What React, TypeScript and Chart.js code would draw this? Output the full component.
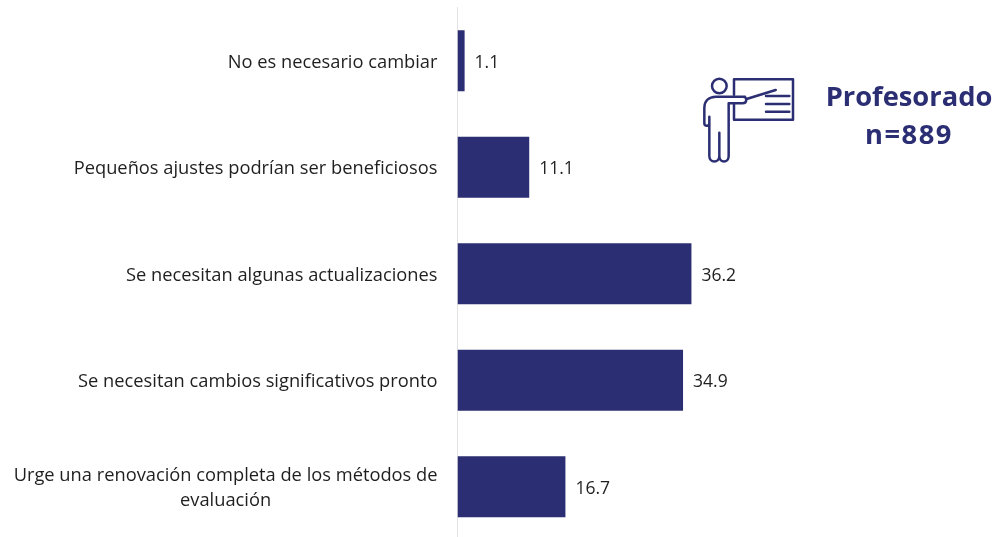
import React, { useEffect, useRef } from "react";
import { Chart, registerables } from "chart.js";

Chart.register(...registerables);

const categories: string[][] = [
  ["No es necesario cambiar"],
  ["Pequeños ajustes podrían ser beneficiosos"],
  ["Se necesitan algunas actualizaciones"],
  ["Se necesitan cambios significativos pronto"],
  ["Urge una renovación completa de los métodos de", "evaluación"],
];
const seriesValues: number[] = [1.1, 11.1, 36.2, 34.9, 16.7];
const valueLabels: string[] = ["1.1", "11.1", "36.2", "34.9", "16.7"];
const titleLines: string[] = ["Profesorado", "n=889"];

const NAVY = "#2b2e72";
const TEXT = "#1f1f1f";
const FONT = "'Open Sans', sans-serif";

const labelsPlugin = {
  id: "rowLabels",
  afterDatasetsDraw(chart: any) {
    const { ctx } = chart;
    const y = chart.scales.y;
    const meta = chart.getDatasetMeta(0);
    ctx.save();
    ctx.fillStyle = TEXT;
    ctx.textBaseline = "middle";
    const lineHeight = 25;
    const rightEdge = chart.chartArea.left - 20;
    categories.forEach((lines, i) => {
      const cy = y.getPixelForTick(i) + 2;
      ctx.font = `18.3px ${FONT}`;
      const widest = Math.max(...lines.map((l) => ctx.measureText(l).width));
      const startY = cy - ((lines.length - 1) * lineHeight) / 2;
      ctx.textAlign = lines.length > 1 ? "center" : "right";
      lines.forEach((line, j) => {
        const x = lines.length > 1 ? rightEdge - widest / 2 : rightEdge;
        ctx.fillText(line, x, startY + j * lineHeight);
      });
      ctx.font = `17.5px ${FONT}`;
      ctx.textAlign = "left";
      ctx.fillText(valueLabels[i], meta.data[i].x + 10, cy);
    });
    ctx.restore();
  },
};

export default function App() {
  const ref = useRef<HTMLCanvasElement>(null);
  useEffect(() => {
    const chart = new Chart(ref.current!, {
      type: "bar",
      data: {
        labels: categories.map((c) => c.join(" ")),
        datasets: [
          {
            data: seriesValues,
            backgroundColor: NAVY,
            categoryPercentage: 0.573,
            barPercentage: 1,
          },
        ],
      },
      options: {
        indexAxis: "y",
        animation: false,
        responsive: false,
        layout: { padding: { left: 457.5, top: 7.5, right: 23.5, bottom: 0 } },
        plugins: { legend: { display: false }, tooltip: { enabled: false } },
        scales: {
          x: { display: false, min: 0, max: 80 },
          y: {
            grid: { display: false, drawTicks: false },
            border: { color: "#e2e2e2", width: 1 },
            ticks: { display: false },
            afterFit(scale: any) {
              scale.width = 0;
            },
          },
        },
      },
      plugins: [labelsPlugin],
    });
    return () => chart.destroy();
  }, []);

  return (
    <div style={{ position: "fixed", left: 0, top: 0, width: 998, height: 537, overflow: "hidden", background: "#fff" }}>
      <canvas ref={ref} width={998} height={540} style={{ position: "absolute", left: 0, top: 0 }} />
      <svg
        style={{ position: "absolute", left: 690, top: 60 }}
        width={308}
        height={120}
        viewBox="0 0 924 360"
        fill="none"
        stroke={NAVY}
        strokeWidth={7.5}
        strokeLinecap="round"
        strokeLinejoin="round"
      >
        <path d="M132 104 V58 H309 V179 H132 V130" />
        <circle cx={88} cy={78} r={22} />
        <path d="M165 110 H78 C55 110 43 124 43 144 V190 C43 200 58 200 58 190 V170 V288 C58 310 88 310 88 288 V218 V288 C88 310 116 310 116 288 V130 H158 C172 130 172 110 160 110" />
        <path d="M172 116 L257 90" strokeWidth={8} />
        <path d="M228 108 H298 M228 132 H298 M228 155 H298" />
      </svg>
      {titleLines.map((line, i) => (
        <div
          key={line}
          style={{
            position: "absolute",
            left: 790,
            width: 238,
            top: 76 + i * 38,
            textAlign: "center",
            font: `700 27.3px/40px ${FONT}`,
            letterSpacing: i === 1 ? "1.5px" : "0",
            color: NAVY,
          }}
        >
          {line}
        </div>
      ))}
    </div>
  );
}
